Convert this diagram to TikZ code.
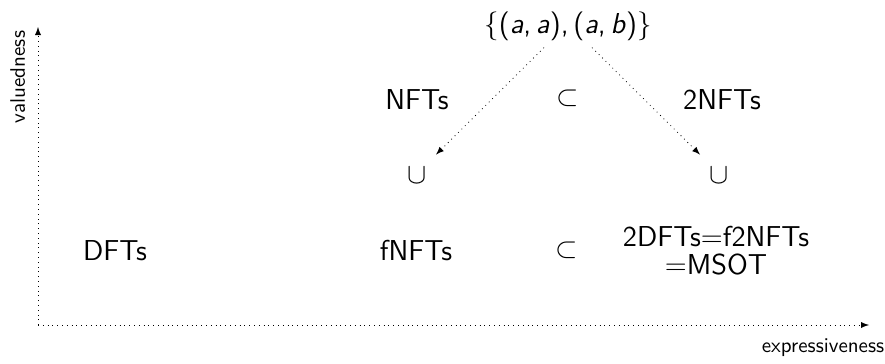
\documentclass[tikz,border=0pt]{standalone}
\usepackage{amsmath,amssymb}
\usepackage{tikz}
\usetikzlibrary{arrows}

\begin{document}
\begin{tikzpicture}[x=0.5pt, y=-0.5pt,
        cls/.style={font=\sffamily\Large, anchor=base, inner sep=3pt},
        rel/.style={font=\Large, inner sep=3pt},
        axislabel/.style={font=\sffamily\fontsize{10.5}{12}\selectfont, anchor=base},
        incl/.style={dotted, -latex}]
    \useasboundingbox (0,0) rectangle (885,364);

    % axes
    \coordinate (origin) at (38,325);
    \coordinate (ytop) at (38,27);
    \coordinate (xend) at (869,325);
    \draw[incl] (origin) -- (ytop);
    \draw[incl] (origin) -- (xend);
    \node[axislabel, rotate=90] (vlab) at (25,77) {valuedness};
    \node[axislabel] (elab) at (823,352) {expressiveness};

    % the relation on top
    \node[cls] (set) at (568,33)
        {$\{$(\textit{a},\,\textit{a}),\,(\textit{a},\,\textit{b})$\}$};

    % upper row
    \node[cls] (nft) at (417,109) {NFTs};
    \node[rel] (subU) at (568,98.5) {$\subset$};
    \node[cls] (tnft) at (722,109) {2NFTs};

    \node[rel] (cupL) at (417,175) {$\cup$};
    \node[rel] (cupR) at (719,175) {$\cup$};

    % lower row
    \node[cls] (dft) at (115,260) {DFTs};
    \node[cls] (fnft) at (416,260) {fNFTs};
    \node[rel] (subD) at (567,250) {$\subset$};
    \node[cls, anchor=center, align=center] (msot) at (716,251)
        {2DFTs$=$f2NFTs\\[-4pt]$=$MSOT};

    \draw[incl] ([shift={(-24,1)}]set.south) -- ([shift={(19,-6)}]cupL.north);
    \draw[incl] ([shift={(24,1)}]set.south) -- ([shift={(-19,-6)}]cupR.north);
\end{tikzpicture}
\end{document}
